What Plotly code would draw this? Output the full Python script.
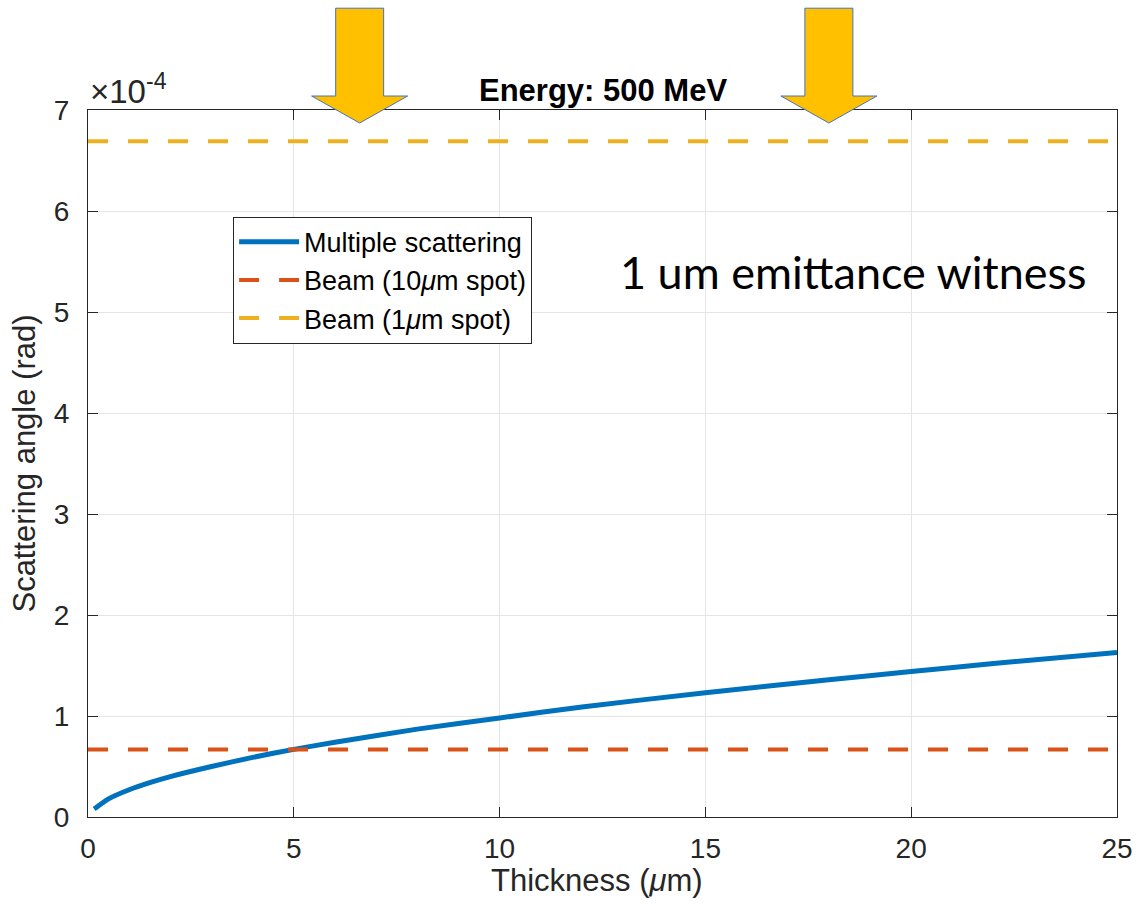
import plotly.graph_objects as go

# Thickness (um) and multiple-scattering angle (x1e-4 rad)
thickness = [0.15, 0.5, 1, 1.5, 2, 3, 4, 5, 6, 8, 10, 12, 15, 18, 20, 22, 25]
scatter_angle_e4 = [0.08, 0.18, 0.27, 0.34, 0.40, 0.50, 0.59, 0.67, 0.74, 0.87,
                    0.98, 1.09, 1.23, 1.36, 1.44, 1.52, 1.63]

# Beam divergence levels (x1e-4 rad)
beam_10um_e4 = 0.669
beam_1um_e4 = 6.69

x_range = [0, 25]
x_ticks = [0, 5, 10, 15, 20, 25]
y_ticks_e4 = [0, 1, 2, 3, 4, 5, 6, 7]

# Thickness positions flagged by the arrows above the axes
arrow_x = [6.6, 18.0]

SCALE = 1e-4
BLUE, ORANGE, YELLOW = "#0072BD", "#D95319", "#EDB120"
AX = "#262626"
FONT = "Liberation Sans, Arial, Helvetica, sans-serif"

fig = go.Figure()
fig.add_trace(go.Scatter(
    x=thickness, y=[v * SCALE for v in scatter_angle_e4],
    mode="lines", line=dict(color=BLUE, width=5, shape="spline", smoothing=0.6),
    name="Multiple scattering"))
fig.add_trace(go.Scatter(
    x=x_range, y=[beam_10um_e4 * SCALE] * 2, mode="lines",
    line=dict(color=ORANGE, width=4, dash="20px,20px"),
    name="Beam (10<i>μ</i>m spot)"))
fig.add_trace(go.Scatter(
    x=x_range, y=[beam_1um_e4 * SCALE] * 2, mode="lines",
    line=dict(color=YELLOW, width=4, dash="20px,20px"),
    name="Beam (1<i>μ</i>m spot)"))

axis_common = dict(
    showline=True, linecolor=AX, linewidth=1, mirror="ticks",
    ticks="inside", ticklen=10, tickcolor=AX, tickwidth=1,
    showgrid=True, gridcolor="#e5e5e5", gridwidth=1, zeroline=False,
    tickfont=dict(family=FONT, size=28, color=AX),
)

fig.update_xaxes(
    range=x_range, tickvals=x_ticks, ticktext=[str(t) for t in x_ticks],
    ticklabelstandoff=6, **axis_common)
fig.update_yaxes(
    range=[0, 7 * SCALE], tickvals=[t * SCALE for t in y_ticks_e4],
    ticktext=[str(t) for t in y_ticks_e4], ticklabelstandoff=12,
    title=dict(text="Scattering angle (rad)", font=dict(family=FONT, size=31, color=AX),
               standoff=8),
    **axis_common)

# x-axis title placed just under the tick labels
fig.add_annotation(
    text="Thickness (<i>μ</i>m)", xref="paper", yref="paper", x=0.495, y=0,
    xanchor="center", yanchor="top", yshift=-44, showarrow=False,
    font=dict(family=FONT, size=31, color=AX))

# Block arrows pointing down at the marked thicknesses
y_top, y_neck, y_tip = 1.144, 1.0198, 0.9816
shaft_half, head_half = 0.583, 1.167
for xa in arrow_x:
    path = (f"M {xa - shaft_half} {y_top} L {xa + shaft_half} {y_top} "
            f"L {xa + shaft_half} {y_neck} L {xa + head_half} {y_neck} "
            f"L {xa} {y_tip} L {xa - head_half} {y_neck} "
            f"L {xa - shaft_half} {y_neck} Z")
    fig.add_shape(type="path", path=path, xref="x", yref="paper",
                  fillcolor="#FFC000", line=dict(color="#4472C4", width=1),
                  layer="above")

fig.add_annotation(
    text="×10<sup>-4</sup>", xref="paper", yref="paper", x=0.0, y=1.0,
    xanchor="left", yanchor="bottom", xshift=0, yshift=-2, showarrow=False,
    font=dict(family=FONT, size=33, color=AX))
fig.add_annotation(
    text="<b>Energy: 500 MeV</b>", xref="paper", yref="paper", x=0.5, y=1.0,
    xanchor="center", yanchor="bottom", yshift=0, showarrow=False,
    font=dict(family=FONT, size=31, color="black"))
fig.add_annotation(
    text="1 um emittance witness", xref="paper", yref="paper",
    x=0.744, y=0.771, xanchor="center", yanchor="middle", showarrow=False,
    font=dict(family="Lato, Open Sans, sans-serif", size=45, color="black"))

fig.update_layout(
    width=1147, height=905,
    margin=dict(l=88, r=30, t=110, b=88),
    paper_bgcolor="white", plot_bgcolor="white",
    showlegend=True,
    legend=dict(
        x=0.141, y=0.849, xanchor="left", yanchor="top",
        bgcolor="white", bordercolor=AX, borderwidth=1,
        font=dict(family=FONT, size=27, color="black"),
        tracegroupgap=0, itemwidth=60),
)

fig.write_html("out.html")
